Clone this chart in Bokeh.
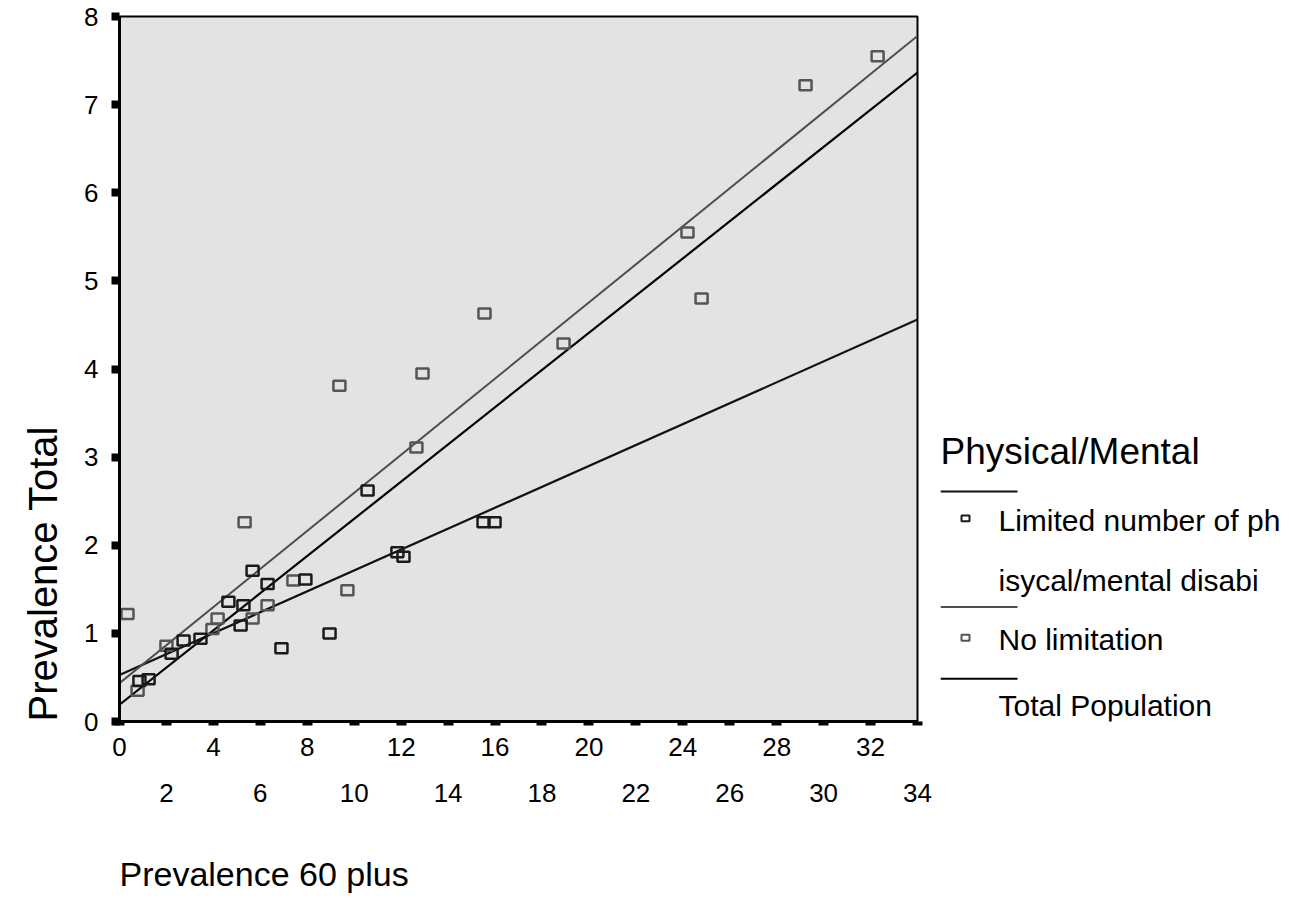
from bokeh.plotting import figure
from bokeh.models import Range1d, LinearAxis, FixedTicker, ColumnDataSource, Title
from bokeh.layouts import row
from bokeh.core.properties import value
from bokeh.embed import file_html
from bokeh.resources import INLINE
import numpy as np

# ---------------- data ----------------
lim_x = [0.85, 1.24, 2.22, 2.73, 3.45, 4.64, 5.16, 5.28, 5.67, 6.31, 6.90, 7.92,
         8.95, 10.57, 11.84, 12.10, 15.51, 15.98]
lim_y = [0.46, 0.48, 0.77, 0.92, 0.94, 1.36, 1.09, 1.32, 1.71, 1.56, 0.83, 1.61,
         1.00, 2.62, 1.92, 1.87, 2.26, 2.26]

nolim_x = [0.34, 0.77, 2.00, 3.96, 4.18, 5.33, 5.67, 6.31, 7.41, 9.37, 9.71,
           12.65, 12.91, 15.55, 18.92, 24.20, 24.80, 29.23, 32.30]
nolim_y = [1.22, 0.35, 0.86, 1.05, 1.17, 2.26, 1.17, 1.32, 1.60, 3.81, 1.49,
           3.11, 3.95, 4.63, 4.29, 5.55, 4.80, 7.22, 7.55]

fit_names = ["Limited number of physical/mental disabi", "No limitation", "Total Population"]
fit_intercept = [0.528, 0.435, 0.19]
fit_slope = [0.1186, 0.216, 0.211]
fit_colors = ["#111111", "#4d4d4d", "#000000"]

x_ticks_row1 = [0, 4, 8, 12, 16, 20, 24, 28, 32]
x_ticks_row2 = [2, 6, 10, 14, 18, 22, 26, 30, 34]
y_ticks = [0, 1, 2, 3, 4, 5, 6, 7, 8]

x_title = "Prevalence 60 plus"
y_title = "Prevalence Total"
legend_title = "Physical/Mental"
legend_lines = ["Limited number of ph", "isycal/mental disabi", "No limitation", "Total Population"]

X_MIN, X_MAX = 0, 34
Y_MIN, Y_MAX = 0, 8

FONT = "Liberation Sans"
FRAME_TOP, FRAME_BOTTOM = 16, 724

# ---------------- main plot ----------------
p = figure(width=940, height=902,
           x_range=Range1d(X_MIN, X_MAX), y_range=Range1d(Y_MIN, Y_MAX),
           output_backend="svg", toolbar_location=None,
           min_border_left=119, min_border_right=23,
           min_border_top=FRAME_TOP, min_border_bottom=902 - FRAME_BOTTOM,
           background_fill_color="#e3e3e3", border_fill_color="white")
p.grid.visible = False
p.outline_line_color = "black"
p.outline_line_width = 2

# x axis row 1 (all tick dashes, labels at multiples of 4)
xa = p.xaxis[0]
all_x_ticks = sorted(x_ticks_row1 + x_ticks_row2)
xa.ticker = FixedTicker(ticks=all_x_ticks)
xa.major_label_overrides = {t: "" for t in x_ticks_row2}
xa.axis_line_width = 3
xa.axis_line_color = "black"
xa.major_tick_in = 0
xa.major_tick_out = 4
xa.major_tick_line_width = 10
xa.major_tick_line_color = "black"
xa.minor_tick_line_color = None
xa.major_label_text_font = FONT
xa.major_label_text_font_size = "26px"
xa.major_label_text_color = "black"
xa.major_label_standoff = 12

# x axis row 2 (labels only)
xa2 = LinearAxis(ticker=FixedTicker(ticks=x_ticks_row2))
xa2.axis_line_color = None
xa2.major_tick_line_color = None
xa2.minor_tick_line_color = None
xa2.major_tick_out = 0
xa2.major_tick_in = 0
xa2.major_label_text_font = FONT
xa2.major_label_text_font_size = "26px"
xa2.major_label_text_color = "black"
xa2.major_label_standoff = 25
p.add_layout(xa2, "below")

ya = p.yaxis[0]
ya.ticker = FixedTicker(ticks=y_ticks)
ya.axis_line_width = 3
ya.axis_line_color = "black"
ya.major_tick_in = 0
ya.major_tick_out = 8
ya.major_tick_line_width = 8
ya.major_tick_line_color = "black"
ya.minor_tick_line_color = None
ya.major_label_text_font = FONT
ya.major_label_text_font_size = "26px"
ya.major_label_text_color = "black"
ya.major_label_standoff = 13

# axis titles as left-aligned titles (leading blank line pushes the x title lower)
p.add_layout(Title(text="\n" + x_title, align="left", text_font=FONT, text_font_size="34px",
                   text_font_style="normal", text_color="black", standoff=20,
                   offset=0), "below")
p.add_layout(Title(text=y_title, align="left", text_font=FONT, text_font_size="40px",
                   text_font_style="normal", text_color="black", standoff=34,
                   offset=0), "left")

# regression lines
xs_line = np.array([X_MIN, X_MAX], dtype=float)
for name, b0, b1, col in zip(fit_names, fit_intercept, fit_slope, fit_colors):
    p.line(xs_line, b0 + b1 * xs_line, line_color=col,
           line_width=2.2 if col != "#4d4d4d" else 2.0)

# points
src_nolim = ColumnDataSource(dict(x=nolim_x, y=nolim_y))
src_lim = ColumnDataSource(dict(x=lim_x, y=lim_y))
p.rect("x", "y", width=12, height=10, width_units="screen", height_units="screen",
       source=src_nolim, fill_color=None, line_color="#555555", line_width=2.5)
p.rect("x", "y", width=12, height=10, width_units="screen", height_units="screen",
       source=src_lim, fill_color=None, line_color="#1a1a1a", line_width=2.5)

# ---------------- legend panel ----------------
# frame aligned with main plot frame; y range in canvas pixels (top-down)
lf = figure(width=349, height=902, x_range=Range1d(0, 349),
            y_range=Range1d(FRAME_BOTTOM, FRAME_TOP),
            output_backend="svg", toolbar_location=None,
            min_border_left=0, min_border_right=0,
            min_border_top=FRAME_TOP, min_border_bottom=902 - FRAME_BOTTOM,
            x_axis_type=None, y_axis_type=None,
            background_fill_color="white", border_fill_color="white")
lf.outline_line_color = None
lf.grid.visible = False

lf.text(x=[0], y=[453], text=[legend_title], text_font=value(FONT),
        text_font_size="37px", text_color="black", text_baseline="middle")
lf.segment(x0=[0, 0, 0], x1=[77, 77, 77], y0=[493, 609, 681], y1=[493, 609, 681],
           line_color=[fit_colors[0], fit_colors[1], fit_colors[2]], line_width=2)
lf.rect(x=[25, 25], y=[520, 640], width=8, height=6, fill_color=None,
        line_color=["#1a1a1a", "#555555"], line_width=2)
lf.text(x=[58, 58, 58, 58], y=[522, 582, 642, 708], text=legend_lines,
        text_font=value(FONT), text_font_size="30px", text_color="black",
        text_baseline="middle")

layout = row(p, lf)
open("out.html", "w").write(file_html(layout, INLINE))
